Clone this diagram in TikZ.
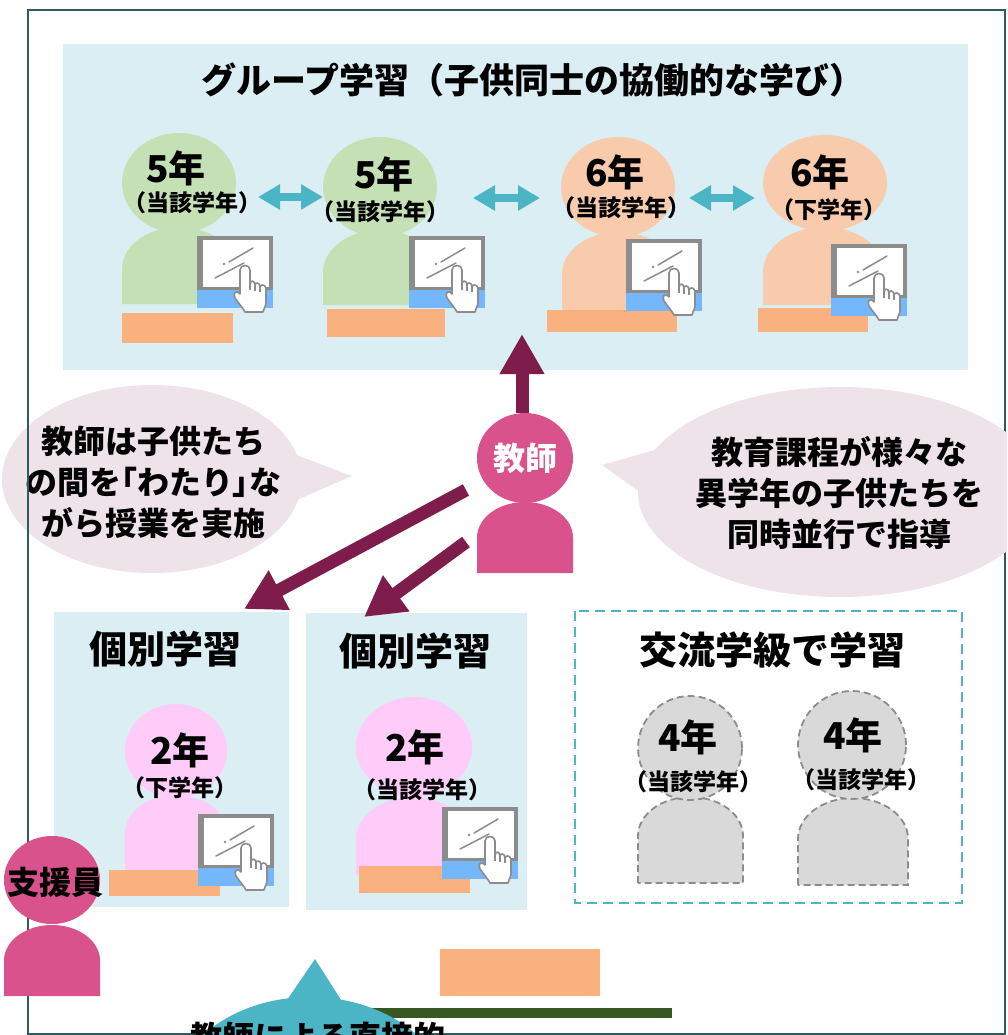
\documentclass[tikz,border=0pt]{standalone}
\usepackage{fontspec}
\setmainfont{Noto Sans CJK JP}
\usepackage{tikz}
\definecolor{framegray}{HTML}{2F5A5E}
\definecolor{panelblue}{HTML}{DAEEF3}
\definecolor{kidgreen}{HTML}{C5E0B4}
\definecolor{kidpeach}{HTML}{F8CBAD}
\definecolor{kidpink}{HTML}{FFCCFA}
\definecolor{kidgray}{HTML}{D9D9D9}
\definecolor{deskorange}{HTML}{F9B27F}
\definecolor{screenblue}{HTML}{75B7FC}
\definecolor{bezelgray}{HTML}{8C8C8C}
\definecolor{linkteal}{HTML}{4BB5C6}
\definecolor{teachermaroon}{HTML}{7E1D4B}
\definecolor{teacherpink}{HTML}{D9528C}
\definecolor{bubblepink}{HTML}{EFE3EA}
\definecolor{bargreen}{HTML}{385723}
\usetikzlibrary{arrows.meta}
\usetikzlibrary{shapes}
\tikzstyle{panel}=[fill=panelblue]
\tikzstyle{head}=[ellipse, inner sep=0pt]
\tikzstyle{ghost}=[fill=kidgray, draw=bezelgray, dashed, dash pattern=on 7pt off 4pt, line width=1.8pt]
\tikzstyle{grade}=[font={\bfseries\fontsize{37}{37}\selectfont}, inner sep=0pt]
\tikzstyle{subgrade}=[font={\bfseries\fontsize{23}{23}\selectfont}, inner sep=0pt]
\tikzstyle{heading}=[font={\bfseries\fontsize{38}{38}\selectfont}, inner sep=0pt]
\tikzstyle{saying}=[font={\bfseries\fontsize{32}{41}\selectfont}, align=center, inner sep=0pt]
\tikzstyle{swaplink}=[{Triangle[width=24pt,length=22pt]}-{Triangle[width=24pt,length=22pt]}, line width=8pt, linkteal]
\tikzstyle{link}=[-{Triangle[width=42pt,length=40pt]}, line width=13pt, teachermaroon]

% rounded body: [style]{left}{right}{top}{bottom}
\newcommand{\torso}[5][]{%
  \pgfmathsetmacro{\tw}{(#3-#2)/2}%
  \pgfmathsetmacro{\th}{0.74*\tw}%
  \path[#1] (#2,#5) -- (#2,#4+\th) arc[start angle=180, end angle=360, x radius=\tw, y radius=\th] -- (#3,#5) -- cycle;}

% tablet with a pointing hand, placed by its top left corner
\newcommand{\tablet}[2]{%
  \begin{scope}[shift={(#1,#2)}]
    \fill[screenblue] (0,53) rectangle (76,72);
    \fill[bezelgray] (0,0) rectangle (76,54);
    \fill[white] (5.5,4) rectangle (71.5,51);
    \draw[bezelgray, line width=1.5pt, line cap=round] (18,42) -- (47,27) (32,26) -- (56,12);
    \fill[bezelgray] (27,28) circle (1.4);
    \filldraw[fill=white, draw=bezelgray, line width=1.6pt, line join=round]
      (43,58) -- (43,34) .. controls (43,28) and (53,28) .. (53,34) -- (53,48)
      .. controls (53,44) and (58,44) .. (58,49)
      .. controls (58,46) and (63,46) .. (63,51)
      .. controls (63,48) and (69,48) .. (69,53)
      -- (69,66) .. controls (69,70) and (67,72) .. (66,76) -- (48,76)
      .. controls (46,72) and (42,68) .. (38,62)
      .. controls (35,57) and (40,53) .. (43,58) -- cycle;
    \draw[bezelgray, line width=1.2pt] (53,48) -- (53,54) (58,49) -- (58,55) (63,51) -- (63,56);
  \end{scope}}

\newcommand{\pbr}[1]{{\addfontfeature{CharacterWidth=AlternateProportional}#1}}

\begin{document}
\begin{tikzpicture}[x=1pt, y=-1pt]

    \useasboundingbox (0,0) rectangle (1007,1035);
    \clip (0,0) rectangle (1007,1035);
    \fill[white] (0,0) rectangle (1007,1035);

    % left speech bubble, under the frame
    \node[head, fill=bubblepink, minimum width=300, minimum height=188] (bubbleL) at (152,479) {};
    \fill[bubblepink] (288,452) -- (352,476) -- (292,502) -- cycle;
    \node[saying] (sayL) at (153,482) {教師は子供たち\\の間を\pbr{「}わたり\pbr{」}な\\がら授業を実施};

    \draw[framegray, line width=2pt] (28,10) rectangle (1005,1034);

    % panels
    \fill[panel] (63,44) rectangle (968,370);
    \node[font={\bfseries\fontsize{35}{35}\selectfont}, inner sep=0pt] (grouptitle) at (533,80) {グループ学習（子供同士の協働的な学び）};
    \fill[panel] (54,612) rectangle (289,907);
    \fill[panel] (306,613) rectangle (527,910);
    \node[heading] (soloA) at (165,649) {個別学習};
    \node[heading] (soloB) at (415,651) {個別学習};
    \draw[linkteal, dashed, dash pattern=on 10pt off 6pt, line width=2.2pt] (575,611) rectangle (962,903);
    \node[heading] (visit) at (772,650) {交流学級で学習};

    % right speech bubble
    \node[head, fill=bubblepink, minimum width=404, minimum height=210] (bubbleR) at (840,492) {};
    \fill[bubblepink] (602,465) -- (662,448) -- (648,498) -- cycle;
    \node[saying] (sayR) at (839,493) {教育課程が様々な\\異学年の子供たちを\\同時並行で指導};

    % group work
    \torso[fill=kidgreen]{122}{236}{227}{304}
    \node[head, fill=kidgreen, minimum width=114, minimum height=100] (kid1) at (179,183) {};
    \node[grade] (kid1grade) at (176,168) {5年};
    \node[subgrade] (kid1note) at (192,203) {（当該学年）};
    \fill[deskorange] (122,313) rectangle (233,343);
    \tablet{197}{236}

    \torso[fill=kidgreen]{323}{437}{230}{305}
    \node[head, fill=kidgreen, minimum width=114, minimum height=100] (kid2) at (380,187) {};
    \node[grade] (kid2grade) at (384,174) {5年};
    \node[subgrade] (kid2note) at (380,212) {（当該学年）};
    \fill[deskorange] (327,309) rectangle (445,337);
    \tablet{409}{236}

    \torso[fill=kidpeach]{562}{675}{232}{313}
    \node[head, fill=kidpeach, minimum width=114, minimum height=100] (kid3) at (618,187) {};
    \node[grade] (kid3grade) at (615,172) {6年};
    \node[subgrade] (kid3note) at (621,208) {（当該学年）};
    \fill[deskorange] (547,310) rectangle (677,332);
    \tablet{626}{239}

    \torso[fill=kidpeach]{763}{885}{227}{305}
    \node[head, fill=kidpeach, minimum width=124, minimum height=96] (kid4) at (825,183) {};
    \node[grade] (kid4grade) at (820,172) {6年};
    \node[subgrade] (kid4note) at (829,210) {（下学年）};
    \fill[deskorange] (758,308) rectangle (868,332);
    \tablet{831}{244}

    \coordinate (k12a) at (258,197);
    \coordinate (k12b) at (323,197);
    \coordinate (k23a) at (473,198);
    \coordinate (k23b) at (540,198);
    \coordinate (k34a) at (689,198);
    \coordinate (k34b) at (755,198);
    \draw[swaplink] (k12a) -- (k12b);
    \draw[swaplink] (k23a) -- (k23b);
    \draw[swaplink] (k34a) -- (k34b);

    % individual work
    \torso[fill=kidpink]{125}{227}{795}{876}
    \node[head, fill=kidpink, minimum width=102, minimum height=94] (kidA) at (176,751) {};
    \node[grade] (kidAgrade) at (180,750) {2年};
    \node[subgrade] (kidAnote) at (180,788) {（下学年）};
    \fill[deskorange] (109,870) rectangle (220,896);
    \tablet{198}{814}

    \torso[fill=kidpink]{356}{470}{797}{875}
    \node[head, fill=kidpink, minimum width=116, minimum height=100] (kidB) at (414,747) {};
    \node[grade] (kidBgrade) at (415,747) {2年};
    \node[subgrade] (kidBnote) at (422,790) {（当該学年）};
    \fill[deskorange] (359,866) rectangle (470,893);
    \tablet{442}{807}

    % exchange class
    \torso[ghost]{638}{743}{797}{883}
    \node[head, ghost, minimum width=104, minimum height=104] (kidC) at (690,748) {};
    \node[grade] (kidCgrade) at (688,737) {4年};
    \node[subgrade] (kidCnote) at (693,782) {（当該学年）};

    \torso[ghost]{798}{908}{798}{885}
    \node[head, ghost, minimum width=108, minimum height=108] (kidD) at (852,745) {};
    \node[grade] (kidDgrade) at (853,735) {4年};
    \node[subgrade] (kidDnote) at (861,780) {（当該学年）};

    % teacher
    \torso[fill=teacherpink]{477}{573}{502}{573}
    \node[head, fill=teacherpink, minimum width=96, minimum height=90, text=white,
          font={\bfseries\fontsize{32}{32}\selectfont}] (teacher) at (525,458) {教師};
    \coordinate (grouptip) at (522,334);
    \coordinate (fromT1) at (466,490);
    \coordinate (fromT2) at (466,542);
    \coordinate (soloAtip) at (244,609);
    \coordinate (soloBtip) at (364,617);
    \draw[link] ([xshift=-3]teacher.north) -- (grouptip);
    \draw[link] (fromT1) -- (soloAtip);
    \draw[link] (fromT2) -- (soloBtip);

    % support staff
    \torso[fill=teacherpink]{4}{100}{925}{996}
    \node[head, fill=teacherpink, minimum width=96, minimum height=88] (helper) at (52,880) {};
    \node[saying] (helpertext) at (55,882) {支援員};

    % bottom row
    \fill[deskorange] (440,949) rectangle (600,996);
    \fill[bargreen] (300,1008) rectangle (672,1018);
    \node[head, fill=linkteal, minimum width=284, minimum height=222] (direct) at (310,1108) {};
    \fill[linkteal] (285,1003) -- (315,959) -- (343,1003) -- cycle;
    \node[saying] (directtext) at (318,1037) {教師による直接的};

\end{tikzpicture}
\end{document}
